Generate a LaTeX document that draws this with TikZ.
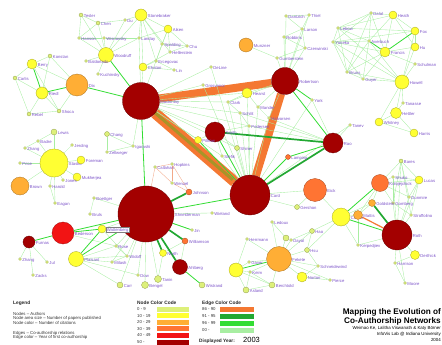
\documentclass[tikz,border=0pt]{standalone}
\usepackage{fontspec}
\setmainfont{Liberation Sans}
\usetikzlibrary{backgrounds}

\definecolor{labcol}{HTML}{7B52C8}
\definecolor{c0}{HTML}{DDF07A}
\definecolor{c1}{HTML}{FFFF33}
\definecolor{c2}{HTML}{FFAE35}
\definecolor{c3}{HTML}{FF7433}
\definecolor{c4}{HTML}{F21414}
\definecolor{c5}{HTML}{A30000}
\definecolor{eold}{HTML}{F47832}
\definecolor{emid}{HTML}{22A832}
\definecolor{enew}{HTML}{33DD33}
\definecolor{elight}{HTML}{A8EEA2}
\definecolor{esalmon}{HTML}{F2A888}
\definecolor{eolive}{HTML}{A89428}

\begin{document}
\begin{tikzpicture}[x=1pt, y=-1pt,
    au/.style={circle, draw=#1!65!black, fill=#1, inner sep=0pt, line width=0.3pt},
    lab/.style={font=\fontsize{4.2}{5}\selectfont, text=labcol, inner sep=0.6pt, yshift=-1pt},
    leg/.style={font=\fontsize{4.3}{5}\selectfont, text=black!80, inner sep=0pt, anchor=base west},
    head/.style={font=\bfseries\fontsize{4.8}{6}\selectfont, text=black!85, inner sep=0pt, anchor=base west},
    e0/.style={elight, line width=0.35pt},
    e1/.style={enew, line width=0.8pt},
    e2/.style={emid, line width=1.7pt},
    es/.style={esalmon, line width=0.35pt},
    eo/.style={eold, line width=#1}, eo/.default=1pt,
  ]
  \useasboundingbox (0,0) rectangle (442,345);

  % database cluster
  \node[au=c1, minimum size=12pt, label={[lab]right:Stonebraker}] (stonebraker) at (141,15) {};
  \node[au=c1, minimum size=8pt, label={[lab]right:Aiken}] (aiken) at (168,29) {};
  \node[au=c0, minimum size=3pt, label={[lab]right:Landay}] (landay) at (139,38) {};
  \node[au=c0, minimum size=3pt, label={[lab]right:Spalding}] (spalding) at (162,44) {};
  \node[au=c0, minimum size=3pt, label={[lab]right:Chu}] (chu) at (187,46) {};
  \node[au=c0, minimum size=3pt, label={[lab]right:Hellerstein}] (hellerstein) at (170,52) {};
  \node[au=c0, minimum size=3pt, label={[lab]right:Ercegovac}] (ercegovac) at (156,61) {};
  \node[au=c1, minimum size=8pt, label={[lab]right:Chaton}] (chaton) at (143,67) {};
  \node[au=c0, minimum size=3pt, label={[lab]right:Lin}] (lin) at (174,70) {};
  \node[au=c0, minimum size=4pt, label={[lab]right:Tesler}] (tesler) at (81,15) {};
  \node[au=c0, minimum size=4pt, label={[lab]right:Chen}] (chen) at (98,23) {};
  \node[au=c0, minimum size=3pt, label={[lab]right:Du}] (du) at (125,20) {};
  \node[au=c0, minimum size=3pt, label={[lab]right:Hanson}] (hanson) at (79,38) {};
  \node[au=c0, minimum size=3pt, label={[lab]right:Wisnovsky}] (wisnovsky) at (104,38) {};
  \node[au=c1, minimum size=15pt, label={[lab]right:Woodruff}] (woodruff) at (106,55) {};
  \node[au=c0, minimum size=3pt, label={[lab]right:Baldonado}] (baldonado) at (86,61) {};
  \node[au=c0, minimum size=3pt, label={[lab]right:Kuchinsky}] (kuchinsky) at (98,74) {};

  % left cluster
  \node[au=c1, minimum size=10pt, label={[lab]right:Berry}] (berry) at (32,64) {};
  \node[au=c0, minimum size=4pt, label={[lab]right:Konstan}] (konstan) at (50,56) {};
  \node[au=c0, minimum size=4pt, label={[lab]right:Carlis}] (carlis) at (15,78) {};
  \node[au=c1, minimum size=12pt, label={[lab]right:Riedl}] (riedl) at (42,93) {};
  \node[au=c2, minimum size=22pt, label={[lab]right:Dix}] (dix) at (77,85) {};
  \node[au=c0, minimum size=4pt, label={[lab]right:Rebel}] (rebel) at (29,114) {};
  \node[au=c0, minimum size=4pt, label={[lab]right:Shoca}] (shoca) at (59,111) {};

  % centre
  \node[au=c5, minimum size=37pt, label={[lab]right:Mackinlay}] (mackinlay) at (141,101) {};
  \node[au=c2, minimum size=14pt, label={[lab]right:Munzner}] (munzner) at (246,45) {};
  \node[au=c0, minimum size=3pt, label={[lab]right:DeLine}] (deline) at (211,67) {};
  \node[au=c0, minimum size=3pt, label={[lab]right:Grosvenor}] (grosvenor) at (203,85) {};
  \node[au=c5, minimum size=27pt, label={[lab]right:Robertson}] (robertson) at (285,81) {};
  \node[au=c0, minimum size=3pt, label={[lab]right:Gumberstein}] (gumberstein) at (277,58) {};
  \node[au=c1, minimum size=10pt, label={[lab]right:Hearst}] (hearst) at (247,93) {};
  \node[au=c0, minimum size=3pt, label={[lab]right:Clark}] (clark) at (228,102) {};
  \node[au=c0, minimum size=3pt, label={[lab]right:Mander}] (mander) at (258,107) {};
  \node[au=c0, minimum size=3pt, label={[lab]right:Schilit}] (schilit) at (240,113) {};
  \node[au=c0, minimum size=3pt, label={[lab]right:Halvorsen}] (halvorsen) at (269,118) {};
  \node[au=c0, minimum size=3pt, label={[lab]right:Pedersen}] (pedersen) at (249,126) {};
  \node[au=c0, minimum size=3pt, label={[lab]right:York}] (york) at (312,100) {};
  \node[au=c5, minimum size=20pt, label={[lab]right:Smith}] (smith) at (215,132) {};
  \node[au=c1, minimum size=7pt, label={[lab]right:Pitkow}] (pitkow) at (198,140) {};
  \node[au=c0, minimum size=5pt, label={[lab]right:Shiner}] (shiner) at (237,148) {};
  \node[au=c0, minimum size=3pt, label={[lab]right:Stefik}] (stefik) at (222,156) {};
  \node[au=c5, minimum size=40pt, label={[lab]right:Card}] (card) at (250,195) {};
  \node[au=c5, minimum size=20pt, label={[lab]right:Rao}] (rao) at (333,143) {};
  \node[au=c3, minimum size=5pt, label={[lab]right:Lamping}] (lamping) at (288,157) {};
  \node[au=c0, minimum size=3pt, label={[lab]right:Tanev}] (tanev) at (350,125) {};

  % top right
  \node[au=c0, minimum size=3pt, label={[lab]right:Dantzich}] (dantzich) at (286,16) {};
  \node[au=c0, minimum size=3pt, label={[lab]right:Thiel}] (thiel) at (309,15) {};
  \node[au=c0, minimum size=3pt, label={[lab]right:Larson}] (larson) at (302,29) {};
  \node[au=c0, minimum size=3pt, label={[lab]right:Robbins}] (robbins) at (284,37) {};
  \node[au=c0, minimum size=3pt, label={[lab]right:Czerwinski}] (czerwinski) at (305,48) {};
  \node[au=c0, minimum size=3pt, label={[lab]right:Dalal}] (dalal) at (371,13) {};
  \node[au=c1, minimum size=8pt, label={[lab]right:Heath}] (heath) at (393,15) {};
  \node[au=c0, minimum size=3pt, label={[lab]right:Lebow}] (lebow) at (338,28) {};
  \node[au=c0, minimum size=3pt, label={[lab]right:Yoneka}] (yoneka) at (333,42) {};
  \node[au=c0, minimum size=3pt, label={[lab]right:Averbuch}] (averbuch) at (369,41) {};
  \node[au=c1, minimum size=8pt, label={[lab]right:Fox}] (fox) at (415,31) {};
  \node[au=c1, minimum size=8pt, label={[lab]right:Hu}] (hu) at (415,47) {};
  \node[au=c1, minimum size=10pt, label={[lab]right:Francis}] (francis) at (385,52) {};
  \node[au=c0, minimum size=3pt, label={[lab]right:Schulman}] (schulman) at (415,64) {};
  \node[au=c0, minimum size=3pt, label={[lab]right:Bruns}] (bruns) at (347,72) {};
  \node[au=c0, minimum size=3pt, label={[lab]right:Guyer}] (guyer) at (363,79) {};
  \node[au=c1, minimum size=14pt, label={[lab]right:Howell}] (howell) at (402,82) {};
  \node[au=c0, minimum size=3pt, label={[lab]right:Tanasse}] (tanasse) at (403,103) {};
  \node[au=c1, minimum size=11pt, label={[lab]right:Hettler}] (hettler) at (396,113) {};
  \node[au=c1, minimum size=8pt, label={[lab]right:Whitney}] (whitney) at (379,122) {};
  \node[au=c1, minimum size=8pt, label={[lab]right:Harris}] (harris) at (414,133) {};

  % right cluster
  \node[au=c0, minimum size=4pt, label={[lab]right:Bares}] (bares) at (401,161) {};
  \node[au=c0, minimum size=3pt, label={[lab]right:Shuko}] (shuko) at (393,177) {};
  \node[au=c1, minimum size=8pt, label={[lab]right:Lucas}] (lucas) at (419,180) {};
  \node[au=c3, minimum size=17pt, label={[lab]right:Kolojejchick}] (kolojejchick) at (380,183) {};
  \node[au=c0, minimum size=3pt, label={[lab]right:Dunmire}] (dunmire) at (409,197) {};
  \node[au=c0, minimum size=3pt, label={[lab]right:Gomberg}] (gomberg) at (393,203) {};
  \node[au=c0, minimum size=3pt, label={[lab]right:Stroffolino}] (stroffolino) at (411,215) {};
  \node[au=c3, minimum size=23pt, label={[lab]right:Eick}] (eick) at (315,190) {};
  \node[au=c0, minimum size=5pt, label={[lab]right:Gershon}] (gershon) at (297,207) {};
  \node[au=c1, minimum size=18pt, label={[lab]right:Chuah}] (chuah) at (341,217) {};
  \node[au=c2, minimum size=9pt, label={[lab]right:Mattis}] (mattis) at (358,215) {};
  \node[au=c2, minimum size=7pt, label={[lab]right:Goldstein}] (goldstein) at (372,203) {};
  \node[au=c5, minimum size=30pt, label={[lab]right:Roth}] (roth) at (397,235) {};
  \node[au=c1, minimum size=9pt, label={[lab]right:Derthick}] (derthick) at (415,255) {};
  \node[au=c0, minimum size=3pt, label={[lab]right:Harrison}] (harrison) at (395,263) {};
  \node[au=c0, minimum size=3pt, label={[lab]right:Moore}] (moore) at (405,283) {};
  \node[au=c0, minimum size=3pt, label={[lab]right:Kerpedjiev}] (kerpedjiev) at (358,245) {};

  % bottom middle
  \node[au=c2, minimum size=25pt, label={[lab]right:Fekete}] (fekete) at (279,259) {};
  \node[au=c0, minimum size=5pt, label={[lab]right:Hao}] (hao) at (312,231) {};
  \node[au=c0, minimum size=3pt, label={[lab]right:Dayal}] (dayal) at (291,240) {};
  \node[au=c0, minimum size=5pt, label={[lab]right:Hsu}] (hsu) at (307,250) {};
  \node[au=c0, minimum size=3pt, label={[lab]right:Schneidewind}] (schneidewind) at (318,266) {};
  \node[au=c1, minimum size=10pt, label={[lab]right:Norton}] (norton) at (302,277) {};
  \node[au=c0, minimum size=3pt, label={[lab]right:Pierce}] (pierce) at (330,280) {};
  \node[au=c0, minimum size=3pt, label={[lab]right:Herrmann}] (herrmann) at (247,239) {};
  \node[au=c0, minimum size=3pt, label={[lab]right:Ledoux}] (ledoux) at (272,222) {};
  \node[au=c0, minimum size=6pt] (lone) at (286,238) {};
  \node[au=c1, minimum size=14pt] (stone) at (236,270) {};
  \node[au=c0, minimum size=3pt, label={[lab]right:Gaver}] (gaver) at (249,262) {};
  \node[au=c0, minimum size=3pt, label={[lab]right:Keim}] (keim) at (250,272) {};
  \node[au=c0, minimum size=6pt, label={[lab]right:Asland}] (asland) at (246,290) {};
  \node[au=c0, minimum size=6pt, label={[lab]right:Berchtold}] (berchtold) at (272,285) {};

  % bottom left
  \node[au=c5, minimum size=56pt, label={[lab]right:Shneiderman}] (shneiderman) at (146,214) {};
  \node[au=c0, minimum size=3pt, label={[lab]right:Hopkins}] (hopkins) at (172,164) {};
  \node[au=c0, minimum size=3pt, label={[lab]right:Callahan}] (callahan) at (155,167) {};
  \node[au=c0, minimum size=3pt, label={[lab]right:Wenzel}] (wenzel) at (172,183) {};
  \node[au=c3, minimum size=6pt, label={[lab]right:Johnson}] (johnson) at (189,192) {};
  \node[au=c0, minimum size=3pt, label={[lab]right:Wieland}] (wieland) at (212,213) {};
  \node[au=c0, minimum size=3pt, label={[lab]right:Jin}] (jin) at (192,230) {};
  \node[au=c3, minimum size=6pt, label={[lab]right:Williamson}] (williamson) at (185,241) {};
  \node[au=c1, minimum size=7pt, label={[lab]right:North}] (north) at (163,253) {};
  \node[au=c5, minimum size=15pt, label={[lab]right:Ahlberg}] (ahlberg) at (180,267) {};
  \node[au=c0, minimum size=6pt, label={[lab]right:Wistrand}] (wistrand) at (202,285) {};
  \node[au=c0, minimum size=7pt, label={[lab]right:Tanin}] (tanin) at (158,279) {};
  \node[au=c0, minimum size=7pt, label={[lab]right:Bengel}] (bengel) at (145,285) {};
  \node[au=c0, minimum size=3pt, label={[lab]right:Dow}] (dow) at (138,275) {};
  \node[au=c0, minimum size=6pt, label={[lab]right:Carr}] (carr) at (120,285) {};
  \node[au=c4, minimum size=22pt, label={[lab]right:Bederson}] (bederson) at (63,233) {};
  \node[au=c5, minimum size=12pt, label={[lab]right:Furnas}] (furnas) at (29,242) {};
  \node[au=c0, minimum size=3pt, label={[lab]right:Zhang}] (zhangb) at (20,259) {};
  \node[au=c0, minimum size=3pt, label={[lab]right:Jul}] (jul) at (47,262) {};
  \node[au=c0, minimum size=3pt, label={[lab]right:Zacks}] (zacks) at (33,275) {};
  \node[au=c1, minimum size=15pt, label={[lab]right:Plaisant}] (plaisant) at (76,259) {};
  \node[au=c0, minimum size=3pt, label={[lab]right:Rose}] (rose) at (116,246) {};
  \node[au=c0, minimum size=3pt, label={[lab]right:Widoff}] (widoff) at (127,256) {};
  \node[au=c0, minimum size=3pt, label={[lab]right:Milash}] (milash) at (112,262) {};
  \node[au=c1, minimum size=8pt, label={[lab, fill=white, draw=black!50, line width=0.2pt]right:Wattenberg}] (wattenberg) at (102,229) {};
  \node[au=c0, minimum size=3pt, label={[lab]right:Boettger}] (boettger) at (94,198) {};
  \node[au=c0, minimum size=3pt, label={[lab]right:Bruls}] (bruls) at (90,214) {};

  % middle left
  \node[au=c1, minimum size=28pt, label={[lab]right:Stasko}] (stasko) at (54,163) {};
  \node[au=c0, minimum size=6pt, label={[lab]right:Lewis}] (lewis) at (54,132) {};
  \node[au=c0, minimum size=3pt, label={[lab]right:Badre}] (badre) at (38,141) {};
  \node[au=c0, minimum size=3pt, label={[lab]right:Zhang}] (zhanga) at (25,148) {};
  \node[au=c0, minimum size=3pt, label={[lab]right:Jerding}] (jerding) at (72,145) {};
  \node[au=c1, minimum size=8pt, label={[lab]right:Foreman}] (foreman) at (81,160) {};
  \node[au=c0, minimum size=3pt, label={[lab]right:Price}] (price) at (20,163) {};
  \node[au=c1, minimum size=8pt, label={[lab]right:Mukherjea}] (mukherjea) at (77,177) {};
  \node[au=c0, minimum size=3pt, label={[lab]right:Jones}] (jones) at (63,180) {};
  \node[au=c2, minimum size=18pt, label={[lab]right:Brown}] (brown) at (20,186) {};
  \node[au=c0, minimum size=3pt, label={[lab]right:Harold}] (harold) at (50,186) {};
  \node[au=c0, minimum size=3pt, label={[lab]right:Eagan}] (eagan) at (55,203) {};
  \node[au=c0, minimum size=5pt, label={[lab]right:Chang}] (chang) at (107,134) {};
  \node[au=c0, minimum size=3pt, label={[lab]right:Zellweger}] (zellweger) at (107,152) {};
  \node[au=c0, minimum size=3pt, label={[lab]right:Igarashi}] (igarashi) at (133,146) {};

  \begin{scope}[on background layer]
    % oldest, heaviest links
    \draw[eo=11pt] (mackinlay) -- (card);
    \draw[eolive, line width=3pt, transform canvas={xshift=-2pt, yshift=2pt}] (mackinlay) -- (card);
    \draw[eo=8pt] (mackinlay) -- (robertson);
    \draw[eo=8pt] (robertson) -- (card);
    \draw[eo=1.2pt] (mattis) -- (roth);
    \foreach \a/\b in {callahan/hopkins, callahan/wenzel, hopkins/wenzel, wenzel/johnson,
        callahan/shneiderman, hopkins/johnson}
      \draw[es] (\a) -- (\b);
    % thin links
    \foreach \a/\b in {stonebraker/aiken, stonebraker/landay, stonebraker/spalding,
        stonebraker/hellerstein, stonebraker/chaton, stonebraker/woodruff, stonebraker/ercegovac,
        stonebraker/du, aiken/landay, aiken/hellerstein, aiken/spalding, aiken/chu,
        landay/woodruff, landay/wisnovsky, chaton/ercegovac, chaton/lin, chaton/hellerstein,
        hellerstein/chu, spalding/chu, ercegovac/lin, ercegovac/spalding, woodruff/tesler,
        woodruff/chen, woodruff/hanson, woodruff/wisnovsky, woodruff/baldonado,
        woodruff/kuchinsky, woodruff/du, tesler/chen, chen/du, hanson/wisnovsky, hanson/chen,
        tesler/hanson, aiken/mackinlay, landay/mackinlay, chaton/mackinlay,
        berry/konstan, berry/carlis, berry/shoca, konstan/riedl, carlis/riedl, riedl/rebel,
        riedl/shoca, rebel/shoca, dix/shoca, carlis/rebel, konstan/dix, berry/dix,
        mackinlay/deline, mackinlay/grosvenor, mackinlay/hearst, mackinlay/clark,
        mackinlay/schilit, mackinlay/pedersen, mackinlay/stefik, mackinlay/shiner,
        mackinlay/igarashi, mackinlay/smith, mackinlay/pitkow, card/york, card/stefik,
        card/shiner, card/pedersen, card/halvorsen, card/hearst, card/clark, card/mander,
        card/schilit, card/tanev, card/gershon, card/eick, robertson/czerwinski,
        robertson/dantzich, robertson/larson, robertson/robbins, robertson/thiel,
        robertson/gumberstein, robertson/hearst, robertson/mander, robertson/halvorsen,
        robertson/clark, munzner/gumberstein, deline/card, grosvenor/card, rao/tanev,
        rao/york, rao/pedersen, rao/halvorsen, rao/schilit, smith/pitkow, smith/shiner,
        smith/stefik, smith/pedersen, hearst/clark, hearst/mander, clark/schilit,
        schilit/pedersen, mander/halvorsen,
        dantzich/thiel, dantzich/larson, larson/czerwinski, robbins/czerwinski, thiel/larson,
        czerwinski/gumberstein, robbins/larson,
        dalal/heath, dalal/lebow, dalal/averbuch, dalal/francis, dalal/bruns, dalal/yoneka,
        heath/fox, heath/francis, heath/averbuch, heath/hu, heath/lebow, lebow/fox,
        lebow/bruns, lebow/yoneka, lebow/howell, lebow/averbuch, yoneka/fox, yoneka/bruns,
        yoneka/averbuch, yoneka/howell, yoneka/francis, yoneka/guyer, averbuch/howell,
        averbuch/bruns, averbuch/guyer, bruns/guyer, bruns/howell, bruns/francis, guyer/howell,
        guyer/francis, howell/hu, howell/fox, francis/hu, francis/schulman, howell/schulman,
        fox/hu, howell/tanasse, howell/hettler, hettler/whitney, hettler/harris,
        whitney/harris, tanasse/hettler, howell/whitney,
        kolojejchick/bares, kolojejchick/shuko, kolojejchick/lucas, kolojejchick/dunmire,
        kolojejchick/gomberg, kolojejchick/goldstein, kolojejchick/mattis, bares/lucas,
        bares/gomberg, bares/stroffolino, bares/dunmire, shuko/lucas, shuko/gomberg,
        lucas/dunmire, lucas/stroffolino, gomberg/roth, dunmire/roth, stroffolino/roth,
        lucas/roth, bares/roth, shuko/roth, gomberg/stroffolino, chuah/mattis,
        chuah/goldstein, mattis/goldstein, roth/derthick, roth/harrison, roth/kerpedjiev,
        derthick/harrison, harrison/moore, roth/moore, kerpedjiev/chuah, kerpedjiev/mattis,
        eick/gershon, eick/chuah,
        fekete/hao, fekete/dayal, fekete/hsu, fekete/schneidewind, fekete/norton,
        fekete/pierce, hao/hsu, dayal/hao, norton/pierce, hsu/schneidewind, fekete/keim,
        fekete/gaver, stone/keim, stone/asland, stone/berchtold, keim/asland, keim/berchtold,
        asland/berchtold, stone/herrmann, fekete/ledoux, fekete/lone, fekete/herrmann,
        lone/ledoux, fekete/berchtold, stone/gaver, norton/schneidewind, hao/chuah, hsu/chuah,
        shneiderman/jin, shneiderman/wieland, shneiderman/tanin, shneiderman/bengel,
        shneiderman/dow, shneiderman/carr, shneiderman/rose, shneiderman/widoff,
        shneiderman/milash, shneiderman/boettger, shneiderman/wattenberg, plaisant/rose,
        plaisant/widoff, plaisant/milash, plaisant/carr, rose/widoff, milash/widoff,
        plaisant/dow, wattenberg/widoff, furnas/zhangb, furnas/jul, furnas/zacks,
        boettger/bruls, north/tanin, ahlberg/williamson, williamson/north, bederson/rose,
        stasko/lewis, stasko/badre, stasko/zhanga, stasko/jerding, stasko/foreman,
        stasko/price, stasko/mukherjea, stasko/jones, stasko/brown, stasko/harold,
        harold/eagan, lewis/badre, badre/zhanga, stasko/eagan, chang/zellweger,
        chang/igarashi, zellweger/igarashi}
      \draw[e0] (\a) -- (\b);
    % newer links
    \foreach \a/\b in {woodruff/mackinlay, dix/mackinlay, riedl/dix, berry/riedl,
        card/lamping, rao/lamping, robertson/york, robertson/rao, chuah/roth,
        kolojejchick/chuah, fox/francis, averbuch/francis, fekete/stone, ahlberg/wistrand,
        plaisant/wattenberg, bederson/wattenberg, bederson/furnas, shneiderman/plaisant,
        shneiderman/card, shneiderman/mackinlay, smith/card, card/pitkow,
        shneiderman/bederson, shneiderman/jin}
      \draw[e1] (\a) -- (\b);
    \foreach \a/\b in {card/rao, rao/smith, shneiderman/johnson, shneiderman/williamson,
        shneiderman/north, shneiderman/ahlberg, goldstein/roth}
      \draw[e2] (\a) -- (\b);
  \end{scope}

  % legend
  \node[head] (legend) at (13,304) {Legend};
  \node[leg] (ln1) at (13,315) {Nodes – Authors};
  \node[leg] (ln2) at (13,319.5) {Node area size – Number of papers published};
  \node[leg] (ln3) at (13,324) {Node color – Number of citations};
  \node[leg] (le1) at (13,334) {Edges – Co-authorship relations};
  \node[leg] (le2) at (13,338.5) {Edge color – Year of first co-authorship};

  \node[head] (nodecode) at (137,304) {Node Color Code};
  \foreach \c/\lbl [count=\i from 0] in {c0/0 - 9, c1/10 - 19, c2/20 - 29, c3/30 - 39,
      c4/40 - 49, c5/50 -} {
    \node[leg] (nc\i) at (137,{310.5+6.6*\i}) {\lbl};
    \fill[\c] (157,{306.5+6.6*\i}) rectangle +(32,5);
  }
  \node[head] (edgecode) at (202,304) {Edge Color Code};
  \foreach \c/\lbl [count=\i from 0] in {eold/86 - 90, emid/91 - 95, enew/96 - 99,
      elight/00 -} {
    \node[leg] (ec\i) at (202,{310.5+7*\i}) {\lbl};
    \fill[\c] (220,{306.5+7*\i}) rectangle +(34,5);
  }
  \node[head] (dyear) at (199,342) {Displayed Year:};
  \node[anchor=base west, inner sep=0pt, font=\fontsize{7.5}{8}\selectfont] (year) at (243,342) {2003};

  % title
  \node[anchor=base east, inner sep=0pt, font=\bfseries\fontsize{8.2}{9}\selectfont] (title1) at (441,314) {Mapping the Evolution of};
  \node[anchor=base east, inner sep=0pt, font=\bfseries\fontsize{8.2}{9}\selectfont] (title2) at (441,323) {Co-Authorship Networks};
  \node[anchor=base east, inner sep=0pt, font=\fontsize{4.4}{5}\selectfont] (authors) at (441,329) {Weimao Ke, Lalitha Viswanath \& Katy Börner};
  \node[anchor=base east, inner sep=0pt, font=\fontsize{4.4}{5}\selectfont] (lab) at (441,335) {InfoVis Lab @ Indiana University};
  \node[anchor=base east, inner sep=0pt, font=\fontsize{4.4}{5}\selectfont] (yr) at (441,341) {2004};
\end{tikzpicture}
\end{document}
